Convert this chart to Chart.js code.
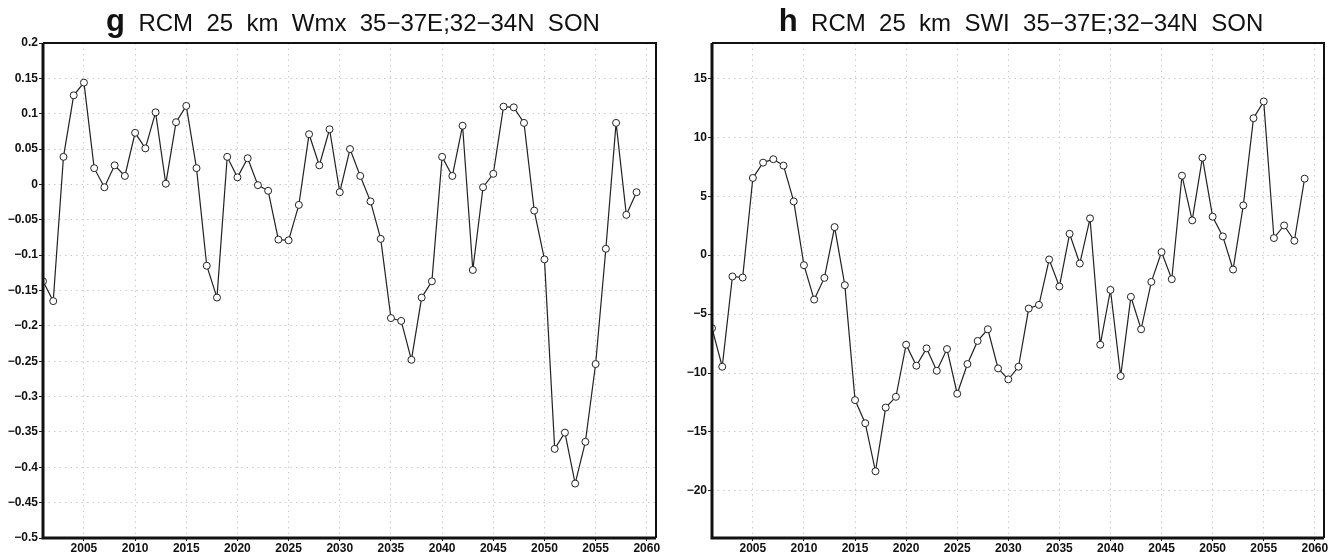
<!DOCTYPE html>
<html>
<head>
<meta charset="utf-8">
<script src="https://cdn.jsdelivr.net/npm/chart.js@4.4.1/dist/chart.umd.min.js"></script>
<style>
  body { margin: 0; background: #fff; width: 1336px; height: 555px; overflow: hidden; position: relative;
         font-family: "Liberation Sans", Arial, sans-serif; }
  .panel { position: absolute; top: 0; width: 668px; height: 555px; }
  .title { position: absolute; top: 4px; line-height: 34px; font-size: 24px; white-space: pre; color: #111;
           transform: translateX(-50%); }
  .title b { font-size: 31px; }
</style>
</head>
<body>
<div class="panel" style="left:0"><canvas id="chartG" width="668" height="555"></canvas></div>
<div class="panel" style="left:668px"><canvas id="chartH" width="668" height="555"></canvas></div>
<div class="title" style="left:353px"><b>g</b>  RCM  25  km  Wmx  35−37E;32−34N  SON</div>
<div class="title" style="left:1021px"><b>h</b>  RCM  25  km  SWI  35−37E;32−34N  SON</div>

<script>
// Data
const years = [2001, 2002, 2003, 2004, 2005, 2006, 2007, 2008, 2009, 2010,
               2011, 2012, 2013, 2014, 2015, 2016, 2017, 2018, 2019, 2020,
               2021, 2022, 2023, 2024, 2025, 2026, 2027, 2028, 2029, 2030,
               2031, 2032, 2033, 2034, 2035, 2036, 2037, 2038, 2039, 2040,
               2041, 2042, 2043, 2044, 2045, 2046, 2047, 2048, 2049, 2050,
               2051, 2052, 2053, 2054, 2055, 2056, 2057, 2058, 2059];

const wmx = [-0.137, -0.165, 0.039, 0.126, 0.144, 0.023, -0.004, 0.027, 0.012, 0.073,
             0.051, 0.102, 0.001, 0.088, 0.111, 0.023, -0.115, -0.160, 0.039, 0.010,
             0.037, -0.001, -0.009, -0.078, -0.079, -0.029, 0.071, 0.027, 0.078, -0.011,
             0.050, 0.012, -0.024, -0.077, -0.189, -0.193, -0.248, -0.160, -0.137, 0.039,
             0.012, 0.083, -0.121, -0.004, 0.015, 0.110, 0.109, 0.087, -0.037, -0.106,
             -0.374, -0.351, -0.423, -0.364, -0.254, -0.091, 0.087, -0.043, -0.011];

const swi = [-6.2, -9.47, -1.81, -1.90, 6.55, 7.85, 8.14, 7.6, 4.56, -0.85,
             -3.77, -1.93, 2.38, -2.55, -12.3, -14.26, -18.34, -12.93, -12.02, -7.6,
             -9.38, -7.91, -9.81, -7.97, -11.76, -9.24, -7.28, -6.29, -9.61, -10.54,
             -9.47, -4.53, -4.22, -0.37, -2.66, 1.81, -0.71, 3.12, -7.6, -2.95,
             -10.26, -3.54, -6.29, -2.27, 0.26, -2.04, 6.74, 2.95, 8.27, 3.26,
             1.59, -1.22, 4.22, 11.62, 13.04, 1.45, 2.52, 1.22, 6.49];

const xTicks = [2005, 2010, 2015, 2020, 2025, 2030, 2035, 2040, 2045, 2050, 2055, 2060];
const wmxTicks = [-0.5, -0.45, -0.4, -0.35, -0.3, -0.25, -0.2, -0.15, -0.1, -0.05, 0, 0.05, 0.1, 0.15, 0.2];
const swiTicks = [-20, -15, -10, -5, 0, 5, 10, 15];

const tickFont = { family: '"Liberation Sans", Arial, sans-serif', size: 12, weight: 'bold' };

// frame round the plot: heavier on left and bottom
const framePlugin = {
    id: 'frame',
    afterDraw(chart) {
        const { ctx, chartArea: a } = chart;
        ctx.save();
        ctx.strokeStyle = '#111';
        ctx.lineWidth = 2;
        ctx.beginPath();
        ctx.moveTo(a.left, a.top);
        ctx.lineTo(a.right, a.top);
        ctx.lineTo(a.right, a.bottom);
        ctx.stroke();
        ctx.lineWidth = 3;
        ctx.beginPath();
        ctx.moveTo(a.left, a.top);
        ctx.lineTo(a.left, a.bottom);
        ctx.lineTo(a.right, a.bottom);
        ctx.stroke();
        ctx.restore();
    }
};

function makeChart(id, values, yMin, yMax, yTicks, axisWidth) {
    const points = years.map((y, i) => ({ x: y, y: values[i] }));
    return new Chart(document.getElementById(id), {
        type: 'line',
        data: {
            datasets: [{
                data: points,
                borderColor: '#222',
                borderWidth: 1.2,
                pointRadius: 3.5,
                pointBorderWidth: 1,
                pointBackgroundColor: '#fff',
                pointBorderColor: '#222',
                tension: 0
            }]
        },
        options: {
            responsive: false,
            animation: false,
            layout: { padding: { top: 43, right: 12, left: 0, bottom: 0 } },
            plugins: { legend: { display: false }, tooltip: { enabled: false } },
            scales: {
                x: {
                    type: 'linear',
                    min: 2001,
                    max: 2060.9,
                    afterBuildTicks: s => { s.ticks = xTicks.map(v => ({ value: v })); },
                    afterFit: s => { s.height = 17; },
                    grid: { color: '#cccccc', lineWidth: 1, tickLength: 3, tickColor: '#222' },
                    border: { display: false, dash: [1.5, 4] },
                    ticks: { color: '#111', font: tickFont, padding: 0, maxRotation: 0,
                             callback: v => String(v) }
                },
                y: {
                    min: yMin,
                    max: yMax,
                    afterBuildTicks: s => { s.ticks = yTicks.map(v => ({ value: v })); },
                    afterFit: s => { s.width = axisWidth; },
                    grid: { color: '#cccccc', lineWidth: 1, tickLength: 4, tickColor: '#222' },
                    border: { display: false, dash: [1.5, 4] },
                    ticks: { color: '#111', font: tickFont, padding: 1,
                             callback: v => String(+v.toFixed(2)).replace('-', '−') }
                }
            }
        },
        plugins: [framePlugin]
    });
}

makeChart('chartG', wmx, -0.5, 0.2, wmxTicks, 43);
makeChart('chartH', swi, -24, 18, swiTicks, 44);
</script>
</body>
</html>
